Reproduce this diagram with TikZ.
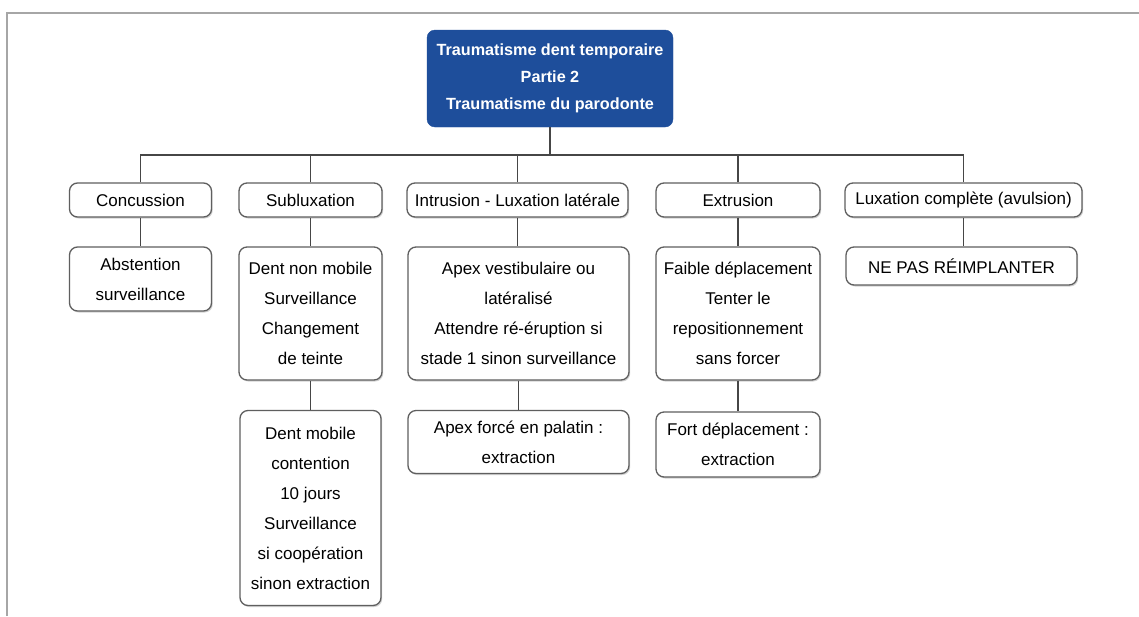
\documentclass[tikz,border=0pt]{standalone}
\usepackage{fontspec}
\setmainfont{Liberation Sans}
\usetikzlibrary{shadows}
\definecolor{rootblue}{RGB}{30,78,155}
\definecolor{boxline}{RGB}{95,95,95}
\definecolor{conn}{RGB}{70,70,70}
\begin{document}
\begin{tikzpicture}[x=1pt,y=-1pt,
  box/.style={draw=boxline, line width=1.3pt, rounded corners=8pt, fill=white,
    align=center, inner sep=0pt, font=\fontsize{17}{30}\selectfont,
    drop shadow={shadow xshift=1.2pt, shadow yshift=-1.5pt, opacity=0.35, fill=gray}},
  rootbox/.style={fill=rootblue, draw=rootblue, rounded corners=8pt, text=white,
    align=center, inner sep=0pt, font=\fontsize{16.2}{27}\selectfont\bfseries},
  link/.style={draw=conn, line width=1.4pt}]
\useasboundingbox (0,0) rectangle (1139,616);
\fill[white] (0,0) rectangle (1139,616);
\draw[gray!70, line width=1.6pt] (7,616) -- (7,13) -- (1139,13);

\node[rootbox, minimum width=246pt, minimum height=97pt] (root) at (550,78.5)
  {Traumatisme dent temporaire\\Partie 2\\Traumatisme du parodonte};

\node[box, minimum width=142pt, minimum height=34pt] (c1) at (140.5,200) {Concussion};
\node[box, minimum width=143pt, minimum height=34pt] (c2) at (310.5,200) {Subluxation};
\node[box, minimum width=221pt, minimum height=34pt] (c3) at (517.5,200) {Intrusion - Luxation latérale};
\node[box, minimum width=164pt, minimum height=34pt] (c4) at (738,200) {Extrusion};
\node[box, minimum width=237pt, minimum height=34pt] (c5) at (963.5,200) {Luxation complète (avulsion)};

\node[box, minimum width=142pt, minimum height=64pt] (d1) at (140.5,279) {Abstention\\surveillance};
\node[box, minimum width=143pt, minimum height=133pt] (d2) at (310.5,313.5) {Dent non mobile\\Surveillance\\Changement\\de teinte};
\node[box, minimum width=221pt, minimum height=133pt] (d3) at (518.5,313.5) {Apex vestibulaire ou\\latéralisé\\Attendre ré-éruption si\\stade 1 sinon surveillance};
\node[box, minimum width=164pt, minimum height=133pt] (d4) at (738,313.5) {Faible déplacement\\Tenter le\\repositionnement\\sans forcer};
\node[box, minimum width=231pt, minimum height=38pt] (d5) at (961.5,266) {NE PAS RÉIMPLANTER};

\node[box, minimum width=141pt, minimum height=195pt] (e2) at (310.5,508) {Dent mobile\\contention\\10 jours\\Surveillance\\si coopération\\sinon extraction};
\node[box, minimum width=221pt, minimum height=63pt] (e3) at (518.5,442) {Apex forcé en palatin :\\extraction};
\node[box, minimum width=164pt, minimum height=65pt] (e4) at (738,444.5) {Fort déplacement :\\extraction};

\coordinate (bus) at (0,155);
\draw[link] (root.south) -- (root.south |- bus);
\draw[link] (c1.north) -- (c1.north |- bus) -- (c5.north |- bus) -- (c5.north);
\draw[link] (c2.north) -- (c2.north |- bus);
\draw[link] (c3.north) -- (c3.north |- bus);
\draw[link] (c4.north) -- (c4.north |- bus);

\draw[link] (c1.south) -- (c1.south |- d1.north);
\draw[link] (c2.south) -- (c2.south |- d2.north);
\draw[link] (c3.south) -- (c3.south |- d3.north);
\draw[link] (c4.south) -- (c4.south |- d4.north);
\draw[link] (c5.south) -- (c5.south |- d5.north);

\draw[link] (d2.south) -- (d2.south |- e2.north);
\draw[link] (d3.south) -- (d3.south |- e3.north);
\draw[link] (d4.south) -- (d4.south |- e4.north);
\end{tikzpicture}
\end{document}
